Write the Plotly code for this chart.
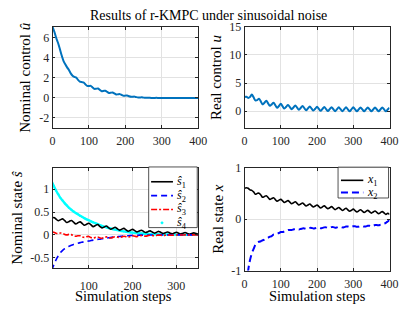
import plotly.graph_objects as go

# ---------------- data ----------------
steps = list(range(0, 405, 5))          # 0..400, top row and bottom-right
steps_s = list(range(15, 355, 5))       # 15..350, nominal states

u_nom = [7.1, 6.6, 6.0, 5.5, 4.9, 4.25, 3.7, 3.35, 3.05, 2.78,
         2.45, 2.22, 2.1, 2.03, 1.8, 1.62, 1.58, 1.55, 1.37, 1.2,
         1.2, 1.2, 1.05, 0.9, 0.92, 0.94, 0.8, 0.67, 0.7, 0.72,
         0.6, 0.49, 0.52, 0.55, 0.44, 0.34, 0.36, 0.38, 0.29, 0.21,
         0.23, 0.24, 0.17, 0.11, 0.12, 0.13, 0.08, 0.04, 0.05, 0.06,
         0.03, 0.01, 0.01, 0.02, 0.0, -0.01, 0.0, 0.01, 0.0, -0.01,
         0, 0, 0, 0, 0, 0, 0, 0, 0, 0,
         0, 0, 0, 0, 0, 0, 0, 0, 0, 0,
         0]

u_real = [2.5, 2.55, 2.35, 2.5, 2.95, 2.45, 1.9, 1.95, 2.2, 1.72,
          1.2, 1.5, 1.85, 1.38, 0.95, 1.2, 1.5, 1.05, 0.6, 0.92,
          1.3, 0.85, 0.45, 0.78, 1.1, 0.72, 0.35, 0.66, 1.0, 0.62,
          0.25, 0.56, 0.9, 0.52, 0.15, 0.48, 0.82, 0.45, 0.1, 0.42,
          0.76, 0.4, 0.05, 0.38, 0.72, 0.36, 0.02, 0.35, 0.7, 0.34,
          0.0, 0.33, 0.68, 0.33, -0.01, 0.33, 0.68, 0.32, -0.02, 0.32,
          0.67, 0.32, -0.02, 0.31, 0.66, 0.31, -0.03, 0.31, 0.66, 0.31,
          -0.03, 0.3, 0.65, 0.3, -0.03, 0.3, 0.65, 0.3, -0.04, 0.3,
          0.62]

x1 = [0.6, 0.61, 0.6, 0.57, 0.56, 0.53, 0.485, 0.5, 0.505, 0.47,
      0.425, 0.44, 0.455, 0.42, 0.385, 0.4, 0.415, 0.38, 0.35, 0.37,
      0.385, 0.354, 0.323, 0.342, 0.361, 0.33, 0.299, 0.318, 0.337, 0.306,
      0.275, 0.295, 0.315, 0.285, 0.255, 0.275, 0.295, 0.265, 0.235, 0.255,
      0.275, 0.246, 0.217, 0.238, 0.259, 0.23, 0.201, 0.222, 0.243, 0.214,
      0.185, 0.206, 0.227, 0.198, 0.169, 0.19, 0.211, 0.182, 0.153, 0.174,
      0.195, 0.168, 0.141, 0.162, 0.183, 0.156, 0.129, 0.15, 0.171, 0.144,
      0.117, 0.138, 0.159, 0.132, 0.105, 0.126, 0.147, 0.12, 0.093, 0.114,
      0.09]

x2 = [-1.9, -1.35, -1.0, -0.8, -0.67, -0.58, -0.5, -0.46, -0.44, -0.43,
      -0.41, -0.4, -0.37, -0.36, -0.34, -0.33, -0.3, -0.3, -0.28, -0.27,
      -0.25, -0.25, -0.24, -0.23, -0.21, -0.21, -0.21, -0.2, -0.19, -0.19,
      -0.2, -0.19, -0.18, -0.18, -0.19, -0.18, -0.17, -0.17, -0.18, -0.175,
      -0.165, -0.165, -0.175, -0.17, -0.16, -0.16, -0.17, -0.165, -0.155, -0.155,
      -0.165, -0.16, -0.15, -0.15, -0.16, -0.155, -0.145, -0.145, -0.155, -0.15,
      -0.14, -0.14, -0.15, -0.145, -0.135, -0.135, -0.145, -0.14, -0.13, -0.13,
      -0.14, -0.13, -0.115, -0.115, -0.12, -0.105, -0.09, -0.085, -0.07, -0.045,
      -0.02]

s1 = [0.35, 0.38, 0.345, 0.31, 0.33, 0.35, 0.31, 0.27, 0.293, 0.315,
      0.278, 0.24, 0.263, 0.285, 0.248, 0.21, 0.233, 0.255, 0.218, 0.18,
      0.203, 0.225, 0.188, 0.152, 0.173, 0.193, 0.158, 0.123, 0.145, 0.167,
      0.135, 0.104, 0.123, 0.142, 0.11, 0.08, 0.1, 0.12, 0.092, 0.065,
      0.085, 0.102, 0.075, 0.05, 0.07, 0.088, 0.062, 0.038, 0.058, 0.075,
      0.052, 0.03, 0.048, 0.063, 0.042, 0.022, 0.04, 0.057, 0.037, 0.018,
      0.035, 0.05, 0.032, 0.013, 0.028, 0.043, 0.027, 0.012]

s2 = [-0.78, -0.66, -0.55, -0.46, -0.39, -0.34, -0.3, -0.27, -0.25, -0.23,
      -0.21, -0.2, -0.185, -0.17, -0.16, -0.15, -0.14, -0.135, -0.125, -0.115,
      -0.11, -0.1, -0.095, -0.085, -0.08, -0.07, -0.065, -0.058, -0.05, -0.045,
      -0.04, -0.035, -0.03, -0.025, -0.02, -0.018, -0.015, -0.012, -0.01, -0.008,
      -0.007, -0.006, -0.005, -0.004, -0.004, -0.003, -0.003, -0.002, -0.002, -0.002,
      -0.001, -0.001, -0.001, -0.001, -0.001, -0.001, -0.001, -0.001, -0.001, -0.001,
      0, 0, 0, 0, 0, 0, 0, 0]

s3 = [0.06, 0.055, 0.035, 0.03, 0.04, 0.035, 0.01, 0.0, 0.01, 0.005,
      -0.02, -0.03, -0.02, -0.02, -0.045, -0.055, -0.04, -0.035, -0.06, -0.07,
      -0.055, -0.045, -0.065, -0.075, -0.06, -0.045, -0.06, -0.07, -0.055, -0.04,
      -0.05, -0.06, -0.045, -0.03, -0.04, -0.05, -0.035, -0.022, -0.03, -0.038,
      -0.026, -0.015, -0.022, -0.028, -0.018, -0.01, -0.015, -0.02, -0.012, -0.006,
      -0.01, -0.014, -0.008, -0.003, -0.006, -0.009, -0.005, -0.002, -0.003, -0.004,
      -0.002, -0.001, -0.002, -0.002, -0.001, 0, 0, 0]

s4 = [1.17, 1.07, 0.97, 0.89, 0.81, 0.75, 0.69, 0.64, 0.59, 0.55,
      0.51, 0.48, 0.45, 0.42, 0.39, 0.365, 0.34, 0.32, 0.295, 0.275,
      0.255, 0.235, 0.215, 0.195, 0.18, 0.165, 0.15, 0.14, 0.125, 0.115,
      0.105, 0.095, 0.085, 0.075, 0.068, 0.06, 0.054, 0.048, 0.043, 0.038,
      0.034, 0.03, 0.027, 0.024, 0.021, 0.018, 0.016, 0.014, 0.012, 0.011,
      0.01, 0.009, 0.008, 0.007, 0.006, 0.005, 0.005, 0.004, 0.004, 0.003,
      0.003, 0.002, 0.002, 0.001, 0.001, 0.001, 0.0, 0.0]

ticks_x = [0, 100, 200, 300, 400]
ticks_x3 = [100, 200, 300]
ticks_y1 = [-2, 0, 2, 4, 6]
ticks_y2 = [0, 5, 10, 15]
ticks_y3 = [-0.5, 0, 0.5, 1]
ticks_y4 = [-1, 0, 1]

legend_s_labels = ["<i>ŝ</i><sub>1</sub>", "<i>ŝ</i><sub>2</sub>",
                   "<i>ŝ</i><sub>3</sub>", "<i>ŝ</i><sub>4</sub>"]
legend_x_labels = ["<i>x</i><sub>1</sub>", "<i>x</i><sub>2</sub>"]

title_text = "Results of r-KMPC under sinusoidal noise"

# ---------------- figure ----------------
W, H = 416, 311
FONT = "Liberation Serif"
MBLUE = "#0072BD"
EDGE = "#262626"

def lab(v):
    return ("%g" % v)

# per-series styles (legend order)
s_styles = [dict(color="black", width=1.6, dash="solid"),
            dict(color="#0000FF", width=1.6, dash="6px,4px"),
            dict(color="#FF0000", width=1.6, dash="6px,2px,2px,2px"),
            None]  # s4 drawn as dense cyan dots
x_styles = [dict(color="black", width=1.6, dash="solid"),
            dict(color="#0000FF", width=2, dash="7px,4px")]

fig = go.Figure()

fig.add_trace(go.Scatter(x=steps, y=u_nom, mode="lines", line=dict(color=MBLUE, width=2, shape="spline", smoothing=0.6),
                         xaxis="x", yaxis="y", showlegend=False))
fig.add_trace(go.Scatter(x=steps, y=u_real, mode="lines", line=dict(color=MBLUE, width=2, shape="spline", smoothing=1.0),
                         xaxis="x2", yaxis="y2", showlegend=False))

fig.add_trace(go.Scatter(x=steps_s, y=s4, mode="lines+markers", line=dict(color="#00FFFF", width=2.4, shape="spline"),
                         marker=dict(color="#00FFFF", size=2),
                         xaxis="x3", yaxis="y3", showlegend=False))
for ys, st in zip([s1, s2, s3], s_styles[:3]):
    fig.add_trace(go.Scatter(x=steps_s, y=ys, mode="lines",
                             line=dict(shape="spline", smoothing=1.0, **st),
                             xaxis="x3", yaxis="y3", showlegend=False))
for ys, st in zip([x1, x2], x_styles):
    fig.add_trace(go.Scatter(x=steps, y=ys, mode="lines",
                             line=dict(shape="spline", smoothing=1.0, **st),
                             xaxis="x4", yaxis="y4", showlegend=False))

axis_common = dict(showline=True, linecolor=EDGE, linewidth=0.8, mirror="ticks",
                   ticks="inside", ticklen=3, tickcolor=EDGE, tickwidth=0.8,
                   showgrid=True, gridcolor="#e2e2e2", gridwidth=1, zeroline=False,
                   tickfont=dict(family=FONT, size=12, color=EDGE))

def xd(a, b):
    return [a / W, b / W]

def yd(top, bottom):
    return [1 - bottom / H, 1 - top / H]

fig.update_layout(
    width=W, height=H, margin=dict(l=0, r=0, t=0, b=0),
    paper_bgcolor="white", plot_bgcolor="white", showlegend=False,
    font=dict(family=FONT, size=12, color="black"),
    xaxis=dict(domain=xd(51, 201), range=[0, 400], anchor="y", tickvals=ticks_x,
               ticktext=[lab(v) for v in ticks_x], ticklabelstandoff=2, **axis_common),
    yaxis=dict(domain=yd(20.7, 126.7), range=[-3, 7.1], anchor="x", tickvals=ticks_y1,
               ticktext=[lab(v) for v in ticks_y1], **axis_common),
    xaxis2=dict(domain=xd(248.7, 398), range=[0, 400], anchor="y2", tickvals=ticks_x,
                ticktext=[lab(v) for v in ticks_x], ticklabelstandoff=2, **axis_common),
    yaxis2=dict(domain=yd(20.7, 126.7), range=[-3, 15], anchor="x2", tickvals=ticks_y2,
                ticktext=[lab(v) for v in ticks_y2], **axis_common),
    xaxis3=dict(domain=xd(51, 201), range=[17, 350], anchor="y3", tickvals=ticks_x3,
                ticktext=[lab(v) for v in ticks_x3], ticklabelstandoff=7, **axis_common),
    yaxis3=dict(domain=yd(168.3, 273.5), range=[-0.73, 1.47], anchor="x3", tickvals=ticks_y3,
                ticktext=[lab(v) for v in ticks_y3], **axis_common),
    xaxis4=dict(domain=xd(248.7, 398), range=[0, 400], anchor="y4", tickvals=ticks_x,
                ticktext=[lab(v) for v in ticks_x], ticklabelstandoff=2, **axis_common),
    yaxis4=dict(domain=yd(168.3, 276), range=[-1, 1], anchor="x4", tickvals=ticks_y4,
                ticktext=[lab(v) for v in ticks_y4], **axis_common),
)

def px(xp):
    return xp / W

def py(yp):
    return 1 - yp / H

def ann(text, x, y, size=15, angle=0, xanchor="center"):
    return dict(text=text, x=px(x), y=py(y), xref="paper", yref="paper",
                showarrow=False, textangle=angle, xanchor=xanchor, yanchor="middle",
                font=dict(family=FONT, size=size, color="black"))

annotations = [
    ann(title_text, 212, 8.5, size=14),
    ann("Nominal control <i>û</i>", 23, 73.7, angle=-90),
    ann("Real control <i>u</i>", 220, 73.7, angle=-90),
    ann("Nominal state <i>ŝ</i>", 14, 221, angle=-90),
    ann("Real state <i>x</i>", 221, 222, angle=-90),
    ann("Simulation steps", 124, 302.5, size=14.5),
    ann("Simulation steps", 323.5, 302.5, size=14.5),
]

# ---- hand-drawn legend boxes (MATLAB style, compact) ----
shapes = []
def legend_box(x0, y0, x1_, y1_):
    shapes.append(dict(type="rect", xref="paper", yref="paper",
                       x0=px(x0), x1=px(x1_), y0=py(y1_), y1=py(y0),
                       line=dict(color=EDGE, width=0.8), fillcolor="white", layer="above"))

legend_box(150, 167.5, 200, 231)
rows1 = [183, 197.5, 212, 226]
for lbl, st, yy in zip(legend_s_labels, s_styles, rows1):
    if st is None:
        shapes.append(dict(type="circle", xref="paper", yref="paper",
                           x0=px(162.5), x1=px(165), y0=py(yy + 1.25), y1=py(yy - 1.25),
                           line=dict(color="#00FFFF", width=0.5), fillcolor="#00FFFF", layer="above"))
    else:
        shapes.append(dict(type="line", xref="paper", yref="paper",
                           x0=px(152.5), x1=px(175), y0=py(yy), y1=py(yy),
                           line=dict(color=st["color"], width=st["width"], dash=st["dash"]), layer="above"))
    annotations.append(ann(lbl, 177, yy, size=12, xanchor="left"))

legend_box(345, 167.7, 397, 200)
rows2 = [181.5, 194.3]
for lbl, st, yy in zip(legend_x_labels, x_styles, rows2):
    shapes.append(dict(type="line", xref="paper", yref="paper",
                       x0=px(348), x1=px(371), y0=py(yy), y1=py(yy),
                       line=dict(color=st["color"], width=st["width"], dash=st["dash"]), layer="above"))
    annotations.append(ann(lbl, 373, yy, size=12, xanchor="left"))

fig.update_layout(annotations=annotations, shapes=shapes)

fig.write_html("out.html", config={"displayModeBar": False},
               post_script="document.body.style.margin='0';document.body.style.overflow='hidden';")
